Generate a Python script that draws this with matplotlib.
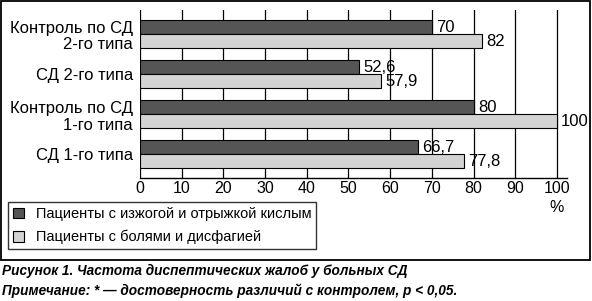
import matplotlib
matplotlib.use("Agg")
import matplotlib.pyplot as plt
from matplotlib.patches import Rectangle
import numpy as np

categories = ["Контроль по СД\n2-го типа", "СД 2-го типа", "Контроль по СД\n1-го типа", "СД 1-го типа"]
heartburn = [70, 52.6, 80, 66.7]
pain = [82, 57.9, 100, 77.8]
series_names = ["Пациенты с изжогой и отрыжкой кислым", "Пациенты с болями и дисфагией"]
xticks = list(range(0, 101, 10))

plt.rcParams['font.family'] = ['Liberation Sans', 'DejaVu Sans']

W, H = 592, 301
fig = plt.figure(figsize=(W / 100, H / 100), dpi=100)

def fx(px):
    return px / W

def fy(py):
    return 1 - py / H

# outer frame
fig.patches.append(Rectangle((fx(1), fy(260)), fx(589), (259) / H, transform=fig.transFigure,
                             fill=False, edgecolor='black', linewidth=1.3))

ax = fig.add_axes([fx(140), fy(178), fx(567 - 140), (178 - 10) / H])
ax.set_xlim(0, 102.4)
ax.set_ylim(3.59, -0.6)

dark = '#555555'
light = '#d3d3d3'
bh = 0.35
y = np.arange(len(categories))
b1 = ax.barh(y - bh / 2, heartburn, height=bh, color=dark, edgecolor='black', linewidth=0.8, zorder=3)
b2 = ax.barh(y + bh / 2, pain, height=bh, color=light, edgecolor='black', linewidth=0.8, zorder=3)

def fmt(v):
    s = ('%g' % v).replace('.', ',')
    return s

for bars, vals in ((b1, heartburn), (b2, pain)):
    for rect, v in zip(bars, vals):
        ax.annotate(fmt(v), (v, rect.get_y() + rect.get_height() / 2), xytext=(3, 0),
                    textcoords='offset points', ha='left', va='center', fontsize=12, zorder=4)

for t in xticks:
    ax.axvline(t, color='black', linewidth=0.9, zorder=1)

ax.set_xticks(xticks)
ax.set_xticklabels([str(t) for t in xticks], fontsize=11.5)
ax.set_yticks(y)
ax.set_yticklabels(categories, fontsize=12, linespacing=1.15)
ax.tick_params(axis='both', length=0)
ax.tick_params(axis='x', pad=2)
ax.tick_params(axis='y', pad=5)
for s in ('top', 'right', 'left'):
    ax.spines[s].set_visible(False)
ax.spines['bottom'].set_linewidth(1.0)

fig.text(fx(557), fy(208), '%', ha='center', va='center', fontsize=11.5)

# legend
leg = fig.legend([Rectangle((0, 0), 1, 1, facecolor=dark, edgecolor='black', linewidth=0.8),
                  Rectangle((0, 0), 1, 1, facecolor=light, edgecolor='black', linewidth=0.8)],
                 series_names, loc='upper left', bbox_to_anchor=(fx(8), fy(202)),
                 frameon=True, fancybox=False, edgecolor='black', fontsize=10.5,
                 handlelength=0.75, handleheight=0.75, handletextpad=0.8, borderpad=0.35,
                 labelspacing=0.6, borderaxespad=0)
leg.get_frame().set_linewidth(1.0)

cap_font = dict(fontsize=9.8, fontweight='bold', fontstyle='italic', ha='left', va='center')
fig.text(fx(2), fy(271), 'Рисунок 1. Частота диспептических жалоб у больных СД', **cap_font)
fig.text(fx(2), fy(291), 'Примечание: * — достоверность различий с контролем, p < 0,05.', **cap_font)

fig.savefig('out.png', dpi=100)
